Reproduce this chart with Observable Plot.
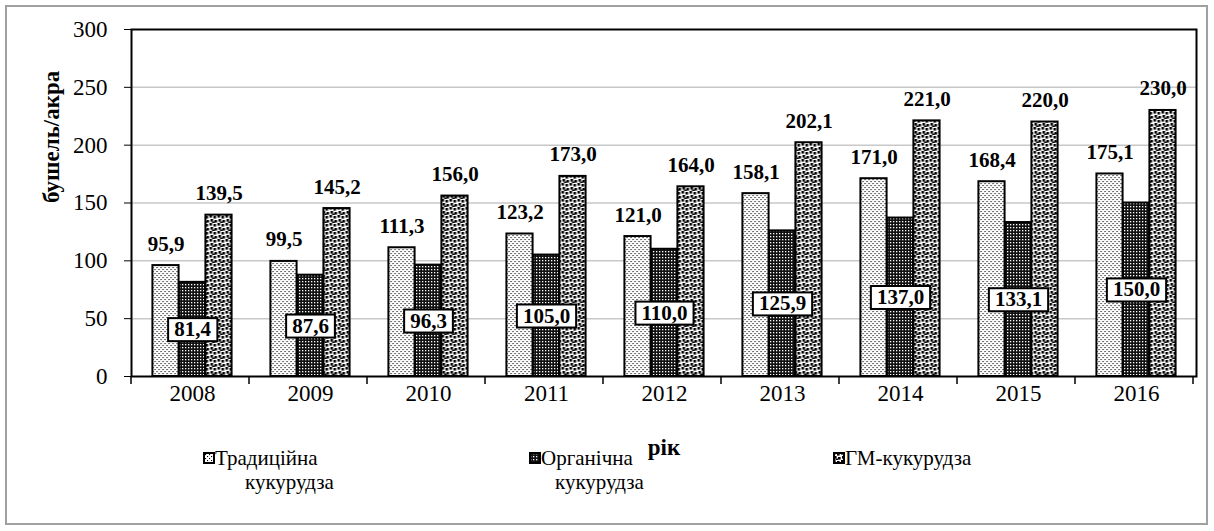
<!DOCTYPE html>
<html><head><meta charset="utf-8">
<script src="https://cdn.jsdelivr.net/npm/d3@7"></script>
<script src="https://cdn.jsdelivr.net/npm/@observablehq/plot@0.6"></script>
<style>
body{margin:0;background:#fff;font-family:'Liberation Serif',serif;}
#wrap{position:absolute;left:5px;top:5px;width:1203px;height:520px;box-sizing:border-box;border:2px solid #a0a0a0;}
#wrap svg{display:block;}
.lg{position:absolute;font-size:21px;line-height:24px;color:#000;white-space:nowrap;}
.sw{position:absolute;}
</style></head><body><div id="wrap"></div><div id="legend"></div>
<script>
// ---- data ----
const years = ["2008","2009","2010","2011","2012","2013","2014","2015","2016"];
const traditional = [95.9, 99.5, 111.3, 123.2, 121.0, 158.1, 171.0, 168.4, 175.1];
const organic = [81.4, 87.6, 96.3, 105.0, 110.0, 125.9, 137.0, 133.1, 150.0];
const gmCorn = [139.5, 145.2, 156.0, 173.0, 164.0, 202.1, 221.0, 220.0, 230.0];
const seriesNames = ["Традиційна кукурудза", "Органічна кукурудза", "ГМ-кукурудза"];
const yTicks = [0, 50, 100, 150, 200, 250, 300];
const yTitle = "бушель/акра";
const xTitle = "рік";

// ---- layout ----
const W = 1199, H = 455, mL = 124, mR = 10, mT = 22, mB = 86;
const barW = 26.5;
const bw = (W - mL - mR) / years.length;
const inset = (bw - barW) / 2;
const fmt = v => d3.format(".1f")(v).replace(".", ",");
const rows = years.map((y, i) => ({year: y, trad: traditional[i], org: organic[i], gm: gmCorn[i]}));
const FONT = "'Liberation Serif',serif";
const pats = ["patTrad", "patOrg", "patGM"];

const barOpts = {x: "year", stroke: "#000", strokeWidth: 2, insetLeft: inset, insetRight: inset};
const chart = Plot.plot({
  width: W, height: H, marginLeft: mL, marginRight: mR, marginTop: mT, marginBottom: mB,
  style: {fontFamily: FONT, fontSize: "23px", color: "#000", background: "transparent"},
  x: {domain: years, padding: 0, tickSize: 0, tickPadding: 8, label: null},
  y: {domain: [0, 300], ticks: yTicks, tickSize: 7, tickPadding: 17, label: null},
  marks: [
    Plot.ruleY(yTicks.filter(t => t > 0 && t < 300), {stroke: "#c8c8c8", strokeWidth: 1.5}),
    Plot.barY(rows, {...barOpts, y: "trad", fill: "url(#patTrad)", dx: -barW}),
    Plot.barY(rows, {...barOpts, y: "org", fill: "url(#patOrg)"}),
    Plot.barY(rows, {...barOpts, y: "gm", fill: "url(#patGM)", dx: barW}),
    Plot.text(rows, {x: "year", y: "trad", text: d => fmt(d.trad), dx: -barW, dy: -15, lineAnchor: "bottom", fontWeight: "bold", fontSize: 21}),
    Plot.text(rows, {x: "year", y: "gm", text: d => fmt(d.gm), dx: barW, dy: -15, lineAnchor: "bottom", fontWeight: "bold", fontSize: 21}),
    Plot.text(rows, {x: "year", y: d => d.org / 2, text: d => fmt(d.org), fontWeight: "bold", fontSize: 21}),
    Plot.frame({stroke: "#000", strokeWidth: 2}),
    Plot.text([yTitle], {frameAnchor: "left", text: d => d, rotate: -90, dx: -80, fontWeight: "bold", fontSize: 23}),
    Plot.text([xTitle], {frameAnchor: "bottom", text: d => d, dy: 78, fontWeight: "bold", fontSize: 23})
  ]
});
document.getElementById("wrap").appendChild(chart);

// ---- patterns ----
const NS = "http://www.w3.org/2000/svg";
const defs = d3.select(chart).insert("defs", ":first-child");
function pattern(id, size, bg, fg, cells, cs) {
  const p = defs.append("pattern").attr("id", id).attr("patternUnits", "userSpaceOnUse")
    .attr("width", size).attr("height", size);
  p.append("rect").attr("width", size).attr("height", size).attr("fill", bg);
  cells.forEach(([cx, cy]) => p.append("rect").attr("x", cx).attr("y", cy).attr("width", cs).attr("height", cs).attr("fill", fg));
}
pattern("patTrad", 4, "#fff", "#000", [[0, 0], [2, 2]], 1.1);
pattern("patOrg", 3, "#111", "#fff", [[1, 1]], 1.3);
pattern("patGM", 8, "#fff", "#000", [[0, 0], [4, 1], [1, 4], [5, 5], [2.5, 6.5]], 2.6);

// ---- boxes behind organic labels ----
const textGroups = chart.querySelectorAll('g[aria-label="text"]');
const orgG = textGroups[2];
orgG.querySelectorAll("text").forEach(t => {
  const b = t.getBBox();
  const r = document.createElementNS(NS, "rect");
  r.setAttribute("x", b.x - 6);
  r.setAttribute("y", b.y + 1);
  r.setAttribute("width", b.width + 12);
  r.setAttribute("height", b.height - 1);
  r.setAttribute("fill", "#fff");
  r.setAttribute("stroke", "#000");
  r.setAttribute("stroke-width", 2);
  if (t.getAttribute("transform")) r.setAttribute("transform", t.getAttribute("transform"));
  orgG.insertBefore(r, t);
});

// ---- x ticks at band boundaries ----
const xs = chart.scale("x");
const x0 = xs.range[0];
const axisY = H - mB;
const tg = d3.select(chart).append("g").attr("stroke", "#000").attr("stroke-width", 1.5);
for (let i = 0; i <= years.length; i++) {
  const xx = x0 + i * xs.bandwidth;
  tg.append("line").attr("x1", xx).attr("x2", xx).attr("y1", axisY).attr("y2", axisY + 8);
}

// ---- legend (page coordinates) ----
const legendX = [203, 529, 833];
const line2Indent = [42, 26, 0];
const leg = document.getElementById("legend");
seriesNames.forEach((name, i) => {
  const parts = name.split(" ");
  const sw = document.createElementNS(NS, "svg");
  sw.setAttribute("class", "sw");
  sw.setAttribute("width", 12); sw.setAttribute("height", 12);
  sw.style.left = legendX[i] + "px"; sw.style.top = "452px";
  const r = document.createElementNS(NS, "rect");
  r.setAttribute("x", 1); r.setAttribute("y", 1); r.setAttribute("width", 10); r.setAttribute("height", 10);
  r.setAttribute("fill", `url(#${pats[i]})`); r.setAttribute("stroke", "#000"); r.setAttribute("stroke-width", 2);
  sw.appendChild(r);
  leg.appendChild(sw);
  const l1 = document.createElement("div");
  l1.className = "lg"; l1.textContent = parts[0];
  l1.style.left = (legendX[i] + 12) + "px"; l1.style.top = "446px";
  leg.appendChild(l1);
  if (parts.length > 1) {
    const l2 = document.createElement("div");
    l2.className = "lg"; l2.textContent = parts.slice(1).join(" ");
    l2.style.left = (legendX[i] + line2Indent[i]) + "px"; l2.style.top = "470px";
    leg.appendChild(l2);
  }
});
</script></body></html>
